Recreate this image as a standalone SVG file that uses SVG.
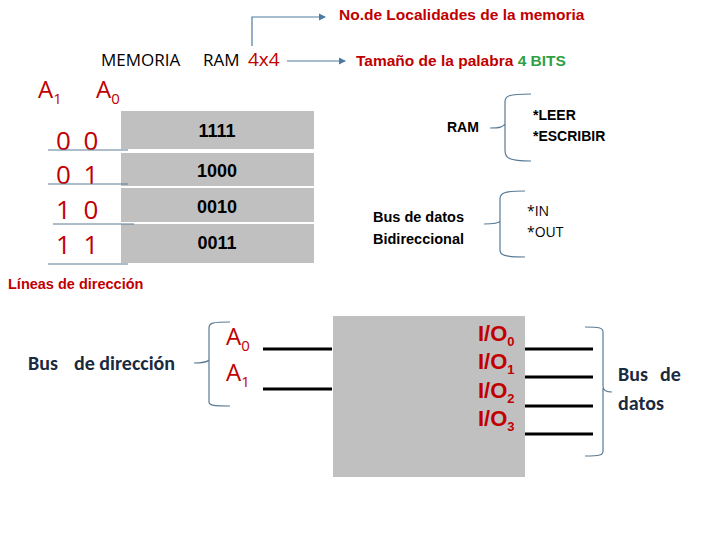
<svg xmlns="http://www.w3.org/2000/svg" width="720" height="540" viewBox="0 0 720 540">
<style>
.r{fill:#c00000;font-family:"Open Sans","Liberation Sans",sans-serif}
.b{font-family:"Liberation Sans",Arial,sans-serif;font-weight:bold}
.k{fill:#000;font-family:"Open Sans","Liberation Sans",sans-serif}
.br{fill:none;stroke:#5a7a94;stroke-width:1.2}
.ln{stroke:#000;stroke-width:3}
.cell{fill:#c0c0c0}
.sep{stroke:#5a7a94;stroke-width:1}
.cal{font-family:Calibri,"Open Sans","Liberation Sans",sans-serif;fill:#1a2a40;font-weight:600}
</style>
<defs><marker id="a" markerWidth="6" markerHeight="6" refX="5" refY="3" orient="auto"><path d="M0,0L6,3L0,6z" fill="#4f7aa0"/></marker></defs>
<g id="titles">
<text x="101" y="66" class="k" font-size="17">MEMORIA<tspan x="203">RAM</tspan><tspan x="248" fill="#c00000" font-size="19">4x4</tspan></text>
<text x="339" y="20" fill="#c00000" class="b" font-size="15.5">No.de Localidades de la memoria</text>
<text x="356" y="66" fill="#c00000" class="b" font-size="15.5">Tamaño de la palabra <tspan fill="#2ea043">4 BITS</tspan></text>
</g>
<g id="arrows">
<path d="M252,46V17H325" fill="none" stroke="#4f7aa0" stroke-width="1.2" marker-end="url(#a)"/>
<path d="M287,61H345" fill="none" stroke="#4f7aa0" stroke-width="1.2" marker-end="url(#a)"/>
</g>
<g id="table">
<text x="38" y="98" class="r" font-size="24">A<tspan font-size="15" dy="6">1</tspan></text>
<text x="96" y="98" class="r" font-size="24">A<tspan font-size="15" dy="6">0</tspan></text>
<rect class="cell" x="121" y="111" width="193" height="38"/>
<rect class="cell" x="121" y="153" width="193" height="33"/>
<rect class="cell" x="121" y="188" width="193" height="34"/>
<rect class="cell" x="121" y="224" width="193" height="39"/>
<g class="b" font-size="18" text-anchor="middle"><text x="217" y="137">1111</text><text x="217" y="177">1000</text><text x="217" y="213">0010</text><text x="217" y="249">0011</text></g>
<g class="r" font-size="26" letter-spacing="3"><text x="56" y="150">0 0</text><text x="56" y="184">0 1</text><text x="56" y="219">1 0</text><text x="56" y="254">1 1</text></g>
<line class="sep" x1="48" y1="150" x2="128" y2="150"/><line class="sep" x1="48" y1="184" x2="128" y2="184"/><line class="sep" x1="53" y1="224" x2="134" y2="224"/><line class="sep" x1="48" y1="264" x2="128" y2="264"/>
<text x="8" y="289" fill="#c00000" class="b" font-size="14.5">Líneas de dirección</text>
</g>
<g id="ram-note">
<text x="447" y="132" class="b" font-size="14">RAM</text>
<path class="br" d="M490,128 C500,128 503,127 505,124 V102 C505,96 508,94 531,94 M505,124 C505,131 505,133 505,150 C505,158 508,161 531,161"/>
<text x="533" y="120" class="b" font-size="14">*LEER</text>
<text x="533" y="141" class="b" font-size="14">*ESCRIBIR</text>
</g>
<g id="bus-note">
<text x="373" y="222" class="b" font-size="14.5">Bus de datos</text>
<text x="373" y="244" class="b" font-size="14.5">Bidireccional</text>
<path class="br" d="M484,224 C494,224 499,223 500,221 V199 C500,193 504,191 525,191 M500,221 V250 C500,255 504,257 525,257"/>
<text x="527" y="216" class="k" font-size="14">*IN</text>
<text x="527" y="237" class="k" font-size="14">*OUT</text>
</g>
<g id="address-bus">
<text x="28" y="370" class="cal" font-size="20">Bus<tspan x="74">de dirección</tspan></text>
<path class="br" d="M194,363 C200,363 206,363 209,360 V328 C209,323 212,322 230,322 M209,360 V402 C209,405 212,406 230,406"/>
<text x="226" y="345" class="r" font-size="24">A<tspan font-size="15" dy="6">0</tspan></text>
<text x="226" y="381" class="r" font-size="24">A<tspan font-size="15" dy="6">1</tspan></text>
</g>
<g id="ram-block">
<rect class="cell" x="333" y="316" width="192" height="161"/>
<g fill="#c00000" class="b" font-size="22">
<text x="478" y="341">I/O<tspan font-size="13" dy="5">0</tspan></text>
<text x="478" y="369">I/O<tspan font-size="13" dy="5">1</tspan></text>
<text x="478" y="398">I/O<tspan font-size="13" dy="5">2</tspan></text>
<text x="478" y="426">I/O<tspan font-size="13" dy="5">3</tspan></text>
</g>
</g>
<g id="connectors">
<line class="ln" x1="263" y1="349" x2="332" y2="349"/><line class="ln" x1="263" y1="389" x2="332" y2="389"/>
<line class="ln" x1="525" y1="349" x2="593" y2="349"/><line class="ln" x1="525" y1="377" x2="593" y2="377"/>
<line class="ln" x1="525" y1="406" x2="593" y2="406"/><line class="ln" x1="525" y1="434" x2="593" y2="434"/>
</g>
<g id="data-bus">
<path class="br" d="M585,327 C600,327 603,328 603,332 V386 C603,390 605,392 612,392 M603,388 V451 C603,455 600,456 585,456"/>
<text x="618" y="381" class="cal" font-size="20">Bus<tspan x="660">de</tspan></text>
<text x="618" y="410" class="cal" font-size="20">datos</text>
</g>
</svg>
